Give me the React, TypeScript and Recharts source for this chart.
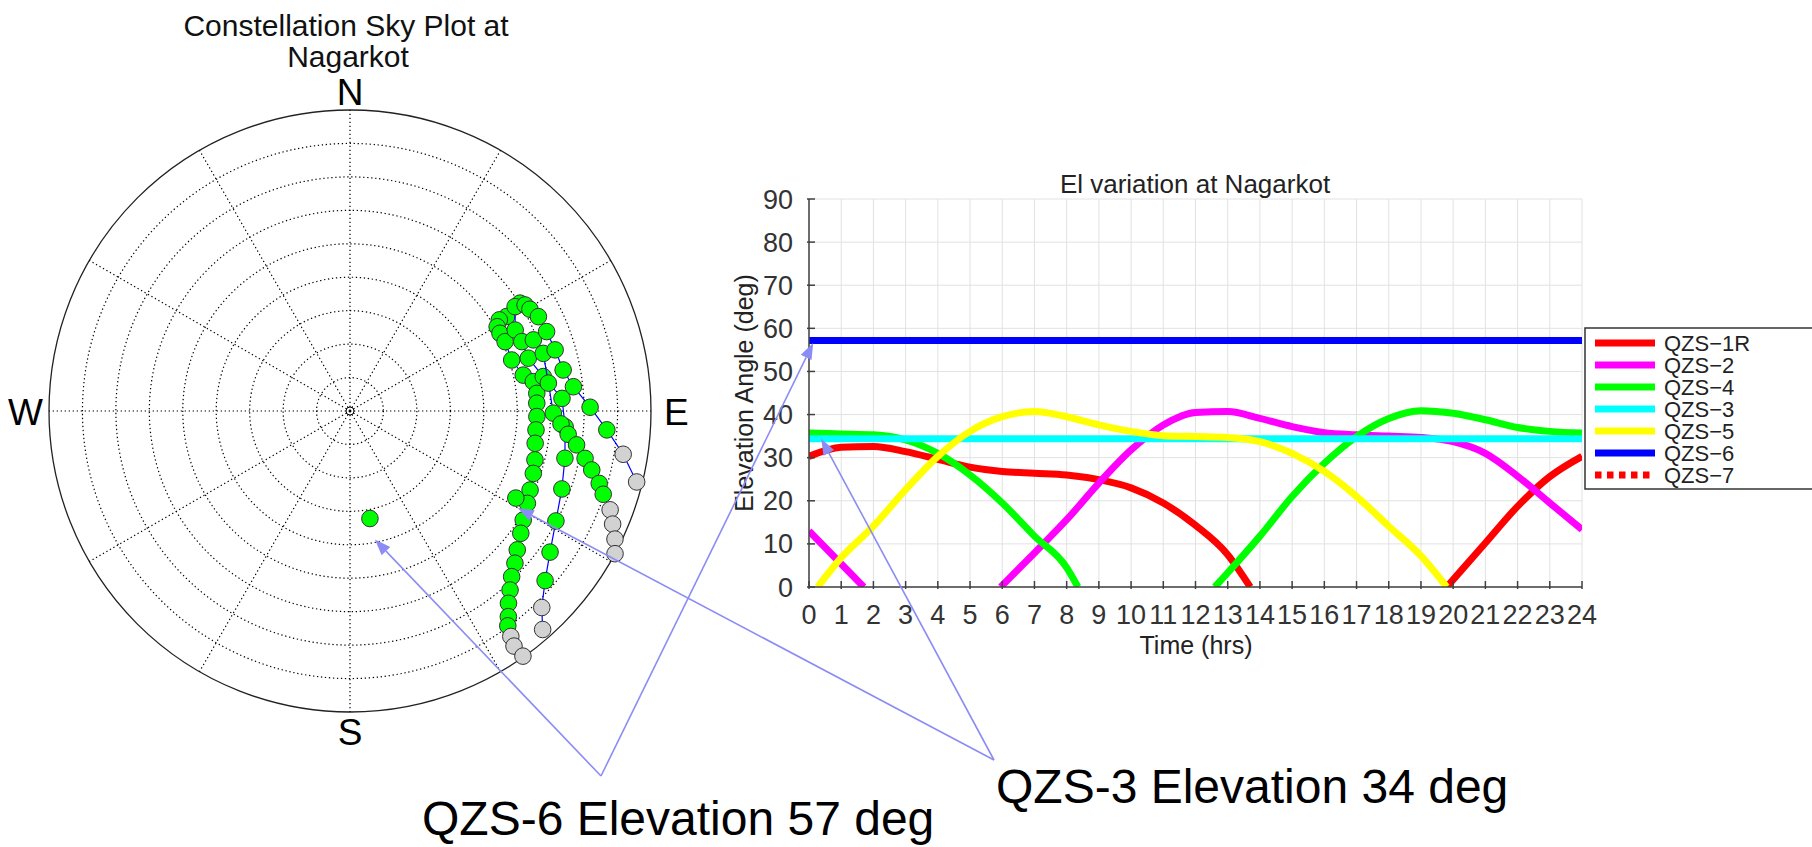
import React from "react";
import {
  ScatterChart,
  Scatter,
  LineChart,
  Line,
  XAxis,
  YAxis,
  CartesianGrid,
  ReferenceArea,
  ReferenceLine,
  ReferenceDot,
} from "recharts";

// ---- sky plot tracks, [azimuth deg, elevation deg] ----
const trackA: [number, number][] = [
  [57.6, 29.8], [58.9, 35.3], [58.6, 37.7], [60.2, 39.3], [62.6, 39.5], [65.9, 39.2],
  [72.5, 39.3], [78.3, 37.1], [80.9, 34.5], [84.6, 33.9], [87.6, 34.1], [91.7, 34.1],
  [95.8, 34.1], [99.9, 33.8], [104.8, 32.8], [108.8, 32.1], [113.7, 31.2], [117.5, 30.2],
  [122.2, 28.8], [125.6, 27.2], [129.7, 25.0], [132.7, 22.9], [135.7, 20.8], [138.2, 18.2],
  [140.5, 15.5], [142.4, 12.4], [143.7, 10.3], [144.5, 7.2], [145.1, 4.3], [144.8, 0.3],
];
const trackB: [number, number][] = [
  [57.7, 31.6], [63.9, 35.0], [68.0, 34.6], [73.5, 34.4], [79.9, 31.3], [86.6, 26.5],
  [94.2, 25.5], [102.4, 24.2], [110.2, 22.5], [118.1, 20.2], [125.2, 16.8], [131.0, 12.7],
  [135.7, 7.9], [138.6, 2.9],
];
const trackC: [number, number][] = [
  [68.8, 31.2], [73.4, 29.7], [82.0, 30.1], [90.6, 29.2], [93.5, 26.8], [96.1, 24.4],
  [98.5, 21.5], [101.4, 18.3], [103.7, 15.6], [106.2, 12.4], [108.2, 10.3], [110.8, 6.8],
  [113.3, 4.5], [115.8, 2.0], [118.3, 0.0],
];
const trackD: [number, number][] = [
  [58.8, 28.8], [60.5, 28.2], [63.4, 27.0], [68.0, 26.6], [73.4, 26.0], [79.1, 25.1],
  [83.8, 22.8], [89.1, 18.2], [94.2, 13.0], [99.0, 7.3], [103.9, 1.7],
];
const qzs3Sky: [number, number][] = [[117.7, 34.0]];
const qzs6Sky: [number, number][] = [[169.5, 57.3]];

// ---- elevation vs time, [hour, elevation]; null splits passes ----
const elQzs1R: [number, number | null][] = [
  [0, 30.3], [1, 32.4], [2, 32.6], [3, 31.4], [4, 29.6], [5, 27.8], [6, 26.8], [7, 26.4],
  [8, 26.0], [9, 24.9], [10, 23.0], [11, 19.5], [12, 14.3], [13, 7.5], [13.7, 0],
  [16, null], [19.8, 0], [21, 10.2], [22, 18.7], [23, 25.6], [24, 30.3],
];
const elQzs2: [number, number | null][] = [
  [0, 13], [0.85, 6.5], [1.7, 0], [4, null], [5.95, 0], [7, 7.9], [8, 15.6], [9, 24.1],
  [10, 31.8], [11, 37.6], [12, 40.5], [13, 40.7], [14, 39.1], [15, 37.2], [16, 35.8],
  [17, 35.3], [18, 35.0], [19, 34.7], [20, 33.7], [21, 31.0], [22, 25.7], [23, 19.5], [24, 13.3],
];
const elQzs4: [number, number | null][] = [
  [0, 35.7], [1, 35.5], [2, 35.3], [3, 34.1], [4, 31.0], [5, 26.0], [6, 19.5], [7, 11.8],
  [8, 4.5], [8.35, 0], [10, null], [12.6, 0], [13, 3.3], [14, 11.8], [15, 21.0], [16, 28.7],
  [17, 34.9], [18, 39.1], [19, 40.9], [20, 40.3], [21, 38.8], [22, 37.0], [23, 36.1], [24, 35.7],
];
const elQzs3: [number, number | null][] = [[0, 34.4], [24, 34.4]];
const elQzs5: [number, number | null][] = [
  [0.27, 0], [1, 6.8], [2, 14.1], [3, 22.6], [4, 30.3], [5, 36.1], [6, 39.5], [7, 40.7],
  [8, 39.5], [9, 37.6], [10, 36.1], [11, 35.1], [12, 34.9], [13, 34.7], [14, 33.7],
  [15, 31.0], [16, 26.8], [17, 21.0], [18, 14.1], [19, 7.2], [19.8, 0],
];
const elQzs6: [number, number | null][] = [[0, 57.2], [24, 57.2]];
const elQzs7: [number, number | null][] = [];

const seriesNames = ["QZS−1R", "QZS−2", "QZS−4", "QZS−3", "QZS−5", "QZS−6", "QZS−7"];
const seriesColors = ["#ff0000", "#ff00ff", "#00ff00", "#00ffff", "#ffff00", "#0000ff", "#ff0000"];
const seriesData = [elQzs1R, elQzs2, elQzs4, elQzs3, elQzs5, elQzs6, elQzs7];

const hourTicks = [0, 1, 2, 3, 4, 5, 6, 7, 8, 9, 10, 11, 12, 13, 14, 15, 16, 17, 18, 19, 20, 21, 22, 23, 24];
const elTicks = [0, 10, 20, 30, 40, 50, 60, 70, 80, 90];
const skyRingsEl = [80, 70, 60, 50, 40, 30, 20, 10];
const skySpokesAz = [0, 30, 60, 90, 120, 150, 180, 210, 240, 270, 300, 330];

// ---- layout ----
const SANS = "'Liberation Sans', Arial, sans-serif";
const NARROW = "'Liberation Sans Narrow', 'Liberation Sans', Arial, sans-serif";
const AXIS = "#404040";
const ANNOT = "#8c8cf5";

const SKY = { cx: 350, cy: 411, r: 301, w: 700, h: 760 };
const LC = { left: 700, top: 150, width: 1100, height: 520 };
const PLOT = { left: 809, top: 199, right: 1582, bottom: 587 };
const Y_W = 40;
const X_H = 40;
const LEG = { x: 1585, y: 328, w: 260, h: 161, first: 343, step: 22 };

const rad = (d: number) => (d * Math.PI) / 180;
const toSky = ([az, el]: [number, number]) => ({
  x: (90 - el) * Math.sin(rad(az)),
  y: (90 - el) * Math.cos(rad(az)),
  el,
});
const skyPx = ([az, el]: [number, number]) => ({
  x: SKY.cx + ((90 - el) / 90) * SKY.r * Math.sin(rad(az)),
  y: SKY.cy - ((90 - el) / 90) * SKY.r * Math.cos(rad(az)),
});
const elPx = (t: number, el: number) => ({
  x: PLOT.left + (t / 24) * (PLOT.right - PLOT.left),
  y: PLOT.bottom - (el / 90) * (PLOT.bottom - PLOT.top),
});

const SatDot = (p: any) => {
  if (p.cx == null || p.cy == null) return null;
  const low = p.payload && p.payload.el < 10;
  return <circle cx={p.cx} cy={p.cy} r={8.3} fill={low ? "#d2d2d2" : "#00ff00"} stroke="#333" strokeWidth={1} />;
};

const XTick = (props: any) => {
  const { x, y, payload } = props;
  return (
    <g>
      <line x1={x} y1={y} x2={x} y2={y - 8} stroke={AXIS} strokeWidth={1.5} />
      <text x={x} y={y + 35} textAnchor="middle" fontSize={27} fill="#333" fontFamily={NARROW}>
        {payload.value}
      </text>
    </g>
  );
};

const YTick = (props: any) => {
  const { x, y, payload } = props;
  return (
    <g>
      <line x1={x} y1={y} x2={x + 8} y2={y} stroke={AXIS} strokeWidth={1.5} />
      <text x={x - 14} y={y + 9.6} textAnchor="end" fontSize={27} fill="#333" fontFamily={NARROW}>
        {payload.value}
      </text>
    </g>
  );
};

const Ring = (dash?: string, color = "#000", width = 1) => (p: any) => (
  <ellipse
    cx={p.x + p.width / 2}
    cy={p.y + p.height / 2}
    rx={Math.abs(p.width) / 2}
    ry={Math.abs(p.height) / 2}
    fill="none"
    stroke={color}
    strokeWidth={width}
    strokeDasharray={dash}
  />
);

function Arrow({ from, to }: { from: { x: number; y: number }; to: { x: number; y: number } }) {
  const dx = to.x - from.x;
  const dy = to.y - from.y;
  const len = Math.hypot(dx, dy);
  const ux = dx / len;
  const uy = dy / len;
  const hl = 16;
  const hw = 6;
  const bx = to.x - ux * hl;
  const by = to.y - uy * hl;
  return (
    <g>
      <line x1={from.x} y1={from.y} x2={bx} y2={by} stroke={ANNOT} strokeWidth={1.6} />
      <polygon
        points={`${to.x},${to.y} ${bx - uy * hw},${by + ux * hw} ${bx + uy * hw},${by - ux * hw}`}
        fill={ANNOT}
      />
    </g>
  );
}

export default function App() {
  const tracks = [trackA, trackB, trackC, trackD];

  const qzs6Dot = skyPx(qzs6Sky[0]);
  const qzs3Dot = skyPx(qzs3Sky[0]);
  const v6 = { x: 601, y: 776 };
  const v3 = { x: 994, y: 760 };

  return (
    <div
      style={{
        position: "absolute",
        left: 0,
        top: 0,
        width: 1812,
        height: 847,
        overflow: "hidden",
        background: "#fff",
        fontFamily: SANS,
      }}
    >
      <div style={{ position: "absolute", left: 0, top: 0 }}>
        <ScatterChart
          width={SKY.w}
          height={SKY.h}
          margin={{
            left: SKY.cx - SKY.r,
            top: SKY.cy - SKY.r,
            right: SKY.w - SKY.cx - SKY.r,
            bottom: SKY.h - SKY.cy - SKY.r,
          }}
        >
          <XAxis type="number" dataKey="x" domain={[-90, 90]} hide allowDataOverflow />
          <YAxis type="number" dataKey="y" domain={[-90, 90]} hide allowDataOverflow />
          {skyRingsEl.map((el) => (
            <ReferenceArea
              key={"ring" + el}
              x1={-(90 - el)}
              x2={90 - el}
              y1={-(90 - el)}
              y2={90 - el}
              ifOverflow="visible"
              shape={Ring("1.3 2.7", "#000", 1.2)}
            />
          ))}
          <ReferenceArea x1={-90} x2={90} y1={-90} y2={90} ifOverflow="visible" shape={Ring(undefined, "#222", 1.3)} />
          {skySpokesAz.map((az) => (
            <ReferenceLine
              key={"spoke" + az}
              segment={[
                { x: 0, y: 0 },
                { x: 90 * Math.sin(rad(az)), y: 90 * Math.cos(rad(az)) },
              ]}
              stroke="#000"
              strokeWidth={1.2}
              strokeDasharray="1.3 2.7"
              ifOverflow="visible"
            />
          ))}
          <ReferenceDot x={0} y={0} r={4} fill="none" stroke="#000" strokeWidth={1} ifOverflow="visible" />
          <ReferenceDot x={0} y={0} r={1} fill="#000" stroke="none" ifOverflow="visible" />
          {tracks.map((tr, i) => (
            <Scatter
              key={"track" + i}
              data={tr.map(toSky)}
              line={{ stroke: "#0000ff", strokeWidth: 1.2 }}
              lineType="joint"
              shape={SatDot}
              isAnimationActive={false}
            />
          ))}
          <Scatter data={qzs3Sky.map(toSky)} shape={SatDot} isAnimationActive={false} />
          <Scatter data={qzs6Sky.map(toSky)} shape={SatDot} isAnimationActive={false} />
        </ScatterChart>
      </div>

      <div style={{ position: "absolute", left: LC.left, top: LC.top }}>
        <LineChart
          width={LC.width}
          height={LC.height}
          margin={{
            left: PLOT.left - LC.left - Y_W,
            top: PLOT.top - LC.top,
            right: LC.left + LC.width - PLOT.right,
            bottom: LC.top + LC.height - PLOT.bottom - X_H,
          }}
        >
          <CartesianGrid stroke="#e2e2e2" strokeWidth={1} />
          <XAxis
            type="number"
            dataKey="t"
            domain={[0, 24]}
            ticks={hourTicks}
            interval={0}
            height={X_H}
            tick={<XTick />}
            tickLine={false}
            tickSize={0}
            axisLine={{ stroke: AXIS, strokeWidth: 1.5 }}
            allowDataOverflow
          />
          <YAxis
            type="number"
            domain={[0, 90]}
            ticks={elTicks}
            interval={0}
            width={Y_W}
            tick={<YTick />}
            tickLine={false}
            tickSize={0}
            axisLine={{ stroke: AXIS, strokeWidth: 1.5 }}
            allowDataOverflow
          />
          {seriesData.map((pts, i) =>
            pts.length ? (
              <Line
                key={seriesNames[i]}
                data={pts.map(([t, el]) => ({ t, el }))}
                dataKey="el"
                type="monotone"
                stroke={seriesColors[i]}
                strokeWidth={7}
                dot={false}
                connectNulls={false}
                isAnimationActive={false}
              />
            ) : null
          )}
        </LineChart>
      </div>

      <svg
        width={1812}
        height={847}
        style={{ position: "absolute", left: 0, top: 0, pointerEvents: "none" }}
        fontFamily={SANS}
      >
        {/* sky plot titles and compass */}
        <text x={SKY.cx - 4} y={36} textAnchor="middle" fontSize={30} fill="#111">
          Constellation Sky Plot at
        </text>
        <text x={SKY.cx - 2} y={67} textAnchor="middle" fontSize={30} fill="#111">
          Nagarkot
        </text>
        <text x={SKY.cx} y={105} textAnchor="middle" fontSize={37} fill="#000">N</text>
        <text x={SKY.cx} y={745} textAnchor="middle" fontSize={37} fill="#000">S</text>
        <text x={43} y={425} textAnchor="end" fontSize={37} fill="#000">W</text>
        <text x={664} y={425} textAnchor="start" fontSize={37} fill="#000">E</text>

        {/* line chart titles */}
        <text x={1195} y={193} textAnchor="middle" fontSize={26} fill="#222">
          El variation at Nagarkot
        </text>
        <text x={1196} y={654} textAnchor="middle" fontSize={25} fill="#222">
          Time (hrs)
        </text>
        <text
          x={0}
          y={0}
          transform={`translate(753, ${(PLOT.top + PLOT.bottom) / 2}) rotate(-90)`}
          textAnchor="middle"
          fontSize={25}
          fill="#222"
        >
          Elevation Angle (deg)
        </text>

        {/* legend */}
        <rect x={LEG.x} y={LEG.y} width={LEG.w} height={LEG.h} fill="#fff" stroke="#333" strokeWidth={1.5} />
        {seriesNames.map((name, i) => {
          const y = LEG.first + i * LEG.step;
          return (
            <g key={"lg" + name}>
              <line
                x1={LEG.x + 10}
                x2={LEG.x + 70}
                y1={y}
                y2={y}
                stroke={seriesColors[i]}
                strokeWidth={7}
                strokeDasharray={name === "QZS−7" ? "6.5 5.5" : undefined}
              />
              <text x={LEG.x + 79} y={y + 8} fontSize={22} fill="#222">
                {name}
              </text>
            </g>
          );
        })}

        {/* annotations */}
        <Arrow from={v6} to={{ x: qzs6Dot.x + 5, y: qzs6Dot.y + 21 }} />
        <Arrow from={v6} to={elPx(0.13, 56.6)} />
        <Arrow from={v3} to={{ x: qzs3Dot.x + 2, y: qzs3Dot.y + 10 }} />
        <Arrow from={v3} to={elPx(0.38, 34.4)} />
        <text x={422} y={835} fontSize={48} fill="#000">
          QZS-6 Elevation 57 deg
        </text>
        <text x={996} y={803} fontSize={48} fill="#000">
          QZS-3 Elevation 34 deg
        </text>
      </svg>
    </div>
  );
}
